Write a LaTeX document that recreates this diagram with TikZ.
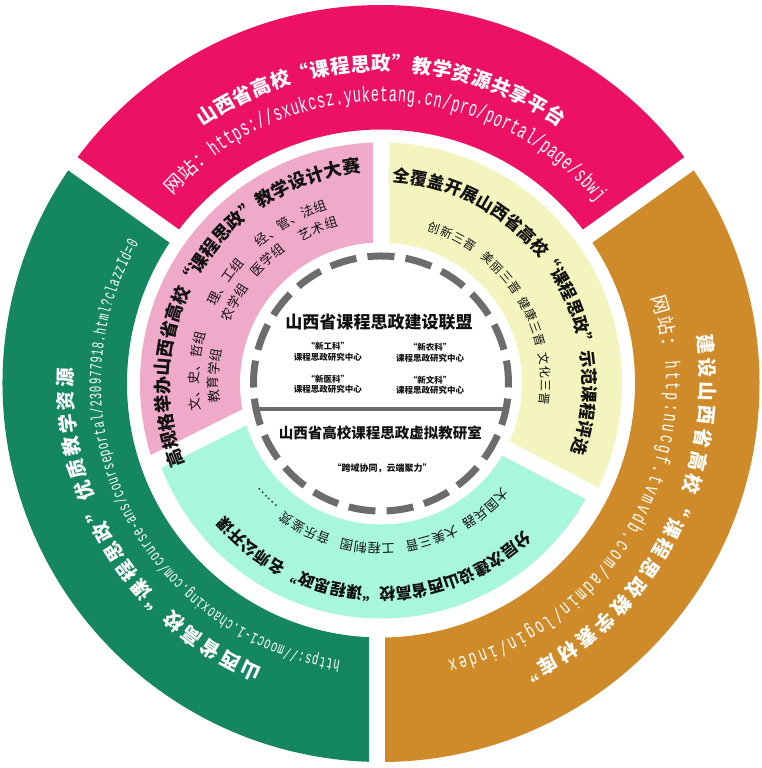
\documentclass[tikz,border=0pt]{standalone}
\usepackage{fontspec}
\newfontfamily\cjk{Noto Sans CJK SC}
\newfontfamily\urlf[FakeStretch=0.62]{Liberation Mono}
\makeatletter
\newcount\arc@n
% #1 baseline radius, #2 angle of first char centre, #3 angular step (deg), #4 font, #5 node style, #6 text
\newcommand\arcp[6]{%
  \pgfmathsetmacro\arc@c{#2}%
  \@tfor\arc@ch:=#6\do{%
    \node[arcchar,font={#4},#5,rotate=\arc@c-90] at (\arc@c:#1) {\arc@ch};%
    \global\let\arcend\arc@c
    \pgfmathsetmacro\arc@c{\arc@c-(#3)}%
  }%
}
% same, centred on angle #2
\newcommand\arcpc[6]{%
  \arc@n=0\relax
  \@tfor\arc@ch:=#6\do{\advance\arc@n by 1\relax}%
  \pgfmathsetmacro\arc@st{#2+(\the\arc@n-1)*(#3)/2}%
  \arcp{#1}{\arc@st}{#3}{#4}{#5}{#6}%
}
\makeatother
\newcommand\fTa{\cjk\bfseries\fontsize{19.5}{20}\selectfont}
\newcommand\fTb{\cjk\bfseries\fontsize{18}{18}\selectfont}
\newcommand\fTc{\cjk\bfseries\fontsize{17}{18}\selectfont}
\newcommand\fTd{\cjk\bfseries\fontsize{16}{17}\selectfont}
\newcommand\fNet{\cjk\fontsize{19}{19}\selectfont}
\newcommand\fUa{\urlf\fontsize{22}{22}\selectfont}
\newcommand\fUc{\urlf\fontsize{21}{21}\selectfont}
\newcommand\fUb{\urlf\fontsize{17}{17}\selectfont}
\newcommand\fSub{\cjk\fontsize{13}{13}\selectfont}
\newcommand\fSubs{\cjk\fontsize{12}{12}\selectfont}
\definecolor{cmag}{RGB}{237,17,101}
\definecolor{corg}{RGB}{207,139,41}
\definecolor{cgrn}{RGB}{20,134,96}
\definecolor{cpnk}{RGB}{240,170,201}
\definecolor{cyel}{RGB}{244,245,190}
\definecolor{cmnt}{RGB}{168,246,222}
\definecolor{cgry}{RGB}{110,107,108}
\definecolor{ctxt}{RGB}{17,17,17}
\tikzset{
  arcchar/.style={inner sep=0pt,outer sep=0pt,anchor=base},
  wt/.style={text=white},
  bk/.style={text=ctxt},
  gapline/.style={draw=white,line width=16pt},
  ctr/.style={inner sep=0pt,text=ctxt,align=center},
}
\begin{document}
\begin{tikzpicture}[x=1pt,y=1pt]
\useasboundingbox (-381,-384.5) rectangle (381,383.5);
\fill[white] (-381,-384.5) rectangle (381,383.5);
% outer ring
\fill[cmag] (35.5:378.5) arc[start angle=35.5,end angle=144.5,radius=378.5] -- (144.5:254) arc[start angle=144.5,end angle=35.5,radius=254] -- cycle;
\fill[cgrn] (144.5:378.5) arc[start angle=144.5,end angle=270,radius=378.5] -- (270:254) arc[start angle=270,end angle=144.5,radius=254] -- cycle;
\fill[corg] (-90:378.5) arc[start angle=-90,end angle=35.5,radius=378.5] -- (35.5:254) arc[start angle=35.5,end angle=-90,radius=254] -- cycle;
\draw[gapline] (35.5:245) -- (35.5:392);
\draw[gapline] (144.5:245) -- (144.5:392);
\draw[gapline] (-4,-245) -- (-4,-392);
% middle ring
\begin{scope}
\clip (0,400) -- (0,34.5) -- (-491.6,-211.3) -- (-500,400) -- cycle;
\fill[cpnk,even odd rule] (0,0) circle[radius=241] (0,0) circle[radius=141];
\end{scope}
\begin{scope}
\clip (0,400) -- (0,0) -- (499.4,-260) -- (500,400) -- cycle;
\fill[cyel,even odd rule] (0,0) circle[radius=241] (0,0) circle[radius=141];
\end{scope}
\begin{scope}
\clip (-33.8,17.6) -- (-491.6,-211.3) -- (-500,-500) -- (500,-500) -- (499.4,-260) -- cycle;
\fill[cmnt,even odd rule] (0,0) circle[radius=235] (0,0) circle[radius=141];
\end{scope}
\draw[gapline] (0,128) -- (0,248);
\draw[gapline] (-27.5:128) -- (-27.5:247);
\draw[gapline] (-125.1,-28.0) -- (-234.1,-82.6);
% central disc
\draw[cgry,line width=7pt,dash pattern=on 27pt off 11.148pt] (96.07:127.5) arc[start angle=96.07,delta angle=-360,radius=127.5];
\draw[cgry,line width=4pt] (-125,-25.5) -- (125,-25.5);
\node[ctr,font=\cjk\bfseries\fontsize{17}{17}\selectfont] (lm) at (-2,61) {山西省课程思政建设联盟};
\node[ctr,font=\cjk\bfseries\fontsize{8.5}{10.5}\selectfont] (xgk) at (-53,31.5) {“新工科”\\课程思政研究中心};
\node[ctr,font=\cjk\bfseries\fontsize{8.5}{10.5}\selectfont] (xnk) at (49,30.5) {“新农科”\\课程思政研究中心};
\node[ctr,font=\cjk\bfseries\fontsize{8.5}{10.5}\selectfont] (xyk) at (-53,-1) {“新医科”\\课程思政研究中心};
\node[ctr,font=\cjk\bfseries\fontsize{8.5}{10.5}\selectfont] (xwk) at (49,-2) {“新文科”\\课程思政研究中心};
\node[ctr,font=\cjk\bfseries\fontsize{14.5}{15}\selectfont] (jys) at (-0.5,-49.5) {山西省高校课程思政虚拟教研室};
\node[ctr,font=\cjk\bfseries\fontsize{9}{10}\selectfont] (kx) at (1,-84.5) {“跨域协同，云端聚力”};
% magenta
\arcpc{312.6}{90}{3.67}{\fTa}{wt}{山西省高校“课程思政”教学资源共享平台}
\arcp{281}{136}{3.9}{\fNet}{wt}{网站：}
\arcp{282}{125.4}{1.8}{\fUa}{wt}{https://sxukcsz.yuketang.cn/pro/portal/page/sbwj}
% orange
\arcpc{319.6}{-28.3}{4.13}{\fTa}{wt}{建设山西省高校“课程思政教学素材库”}
\arcp{284}{15.6}{4.15}{\fNet}{wt}{网站：}
\arcp{285}{3.6}{2.087}{\fUc}{wt}{http:nucgf.tvmvdb.com/admin/login/index}
% green
\arcpc{308.6}{212.35}{4.17}{\fTa}{wt}{山西省高校“课程思政”优质教学资源}
\arcpc{280}{205.8}{1.453}{\fUb}{wt}{https://mooc1-1.chaoxing.com/course-ans/courseportal/230977918.html?clazzId=0}
% pink
\arcpc{212}{148.95}{4.87}{\fTb}{bk}{高规格举办山西省高校“课程思政”教学设计大赛}
\arcpc{182}{176.2}{4.1}{\fSub}{bk}{文、史、哲组}
\arcpc{182}{146.85}{4.1}{\fSub}{bk}{理、工组}
\arcpc{182}{119.35}{4.1}{\fSub}{bk}{经、管、法组}
\arcpc{163}{177.35}{4.8}{\fSub}{bk}{教育学组}
\arcpc{163}{151}{4.8}{\fSub}{bk}{农学组}
\arcpc{163}{132.6}{4.8}{\fSub}{bk}{医学组}
\arcpc{163}{112.2}{4.8}{\fSub}{bk}{艺术组}
% yellow
\arcpc{202.3}{33.35}{4.85}{\fTc}{bk}{全覆盖开展山西省高校“课程思政”示范课程评选}
\arcpc{160}{64.2}{4.7}{\fSubs}{bk}{创新三晋}
\arcpc{160}{42.6}{4.7}{\fSubs}{bk}{美丽三晋}
\arcpc{160}{22.2}{4.7}{\fSubs}{bk}{健康三晋}
\arcpc{160}{1.6}{4.7}{\fSubs}{bk}{文化三晋}
% mint
\arcpc{204.7}{-92.75}{4.48}{\fTd}{bk}{分层次建设山西省高校“课程思政”名师公开课}
\arcpc{160}{-50.05}{4.85}{\fSub}{bk}{大国兵器}
\arcpc{160}{-71.8}{4.85}{\fSub}{bk}{大美三晋}
\arcpc{160}{-94.8}{4.85}{\fSub}{bk}{工程制图}
\arcpc{160}{-117.6}{4.85}{\fSub}{bk}{音乐鉴赏}
\arcpc{160}{-134.9}{4.85}{\fSub}{bk}{……}
\end{tikzpicture}
\end{document}
